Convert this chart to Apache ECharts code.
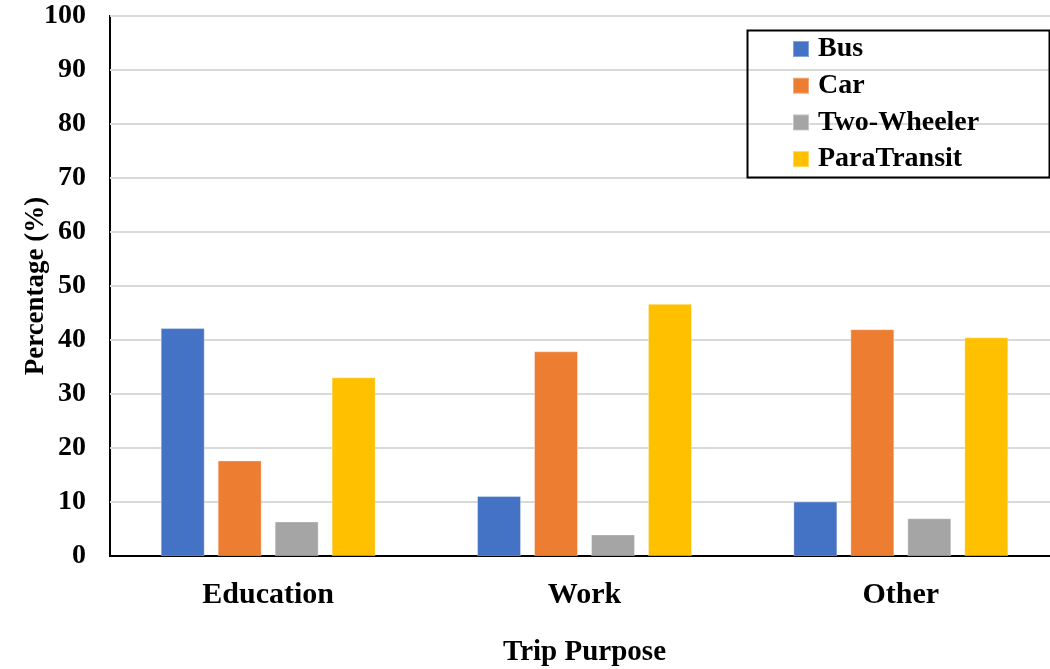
<!DOCTYPE html>
<html>
<head>
<meta charset="utf-8">
<script src="https://cdn.jsdelivr.net/npm/echarts@6/dist/echarts.min.js"></script>
<style>
  html, body { margin: 0; padding: 0; background: #fff; }
  #chart { width: 1050px; height: 669px; }
</style>
</head>
<body>
<div id="chart"></div>
<script>
/* Mode share by trip purpose, grouped bars. */
const categories = ["Education", "Work", "Other"];
const modes = ["Bus", "Car", "Two-Wheeler", "ParaTransit"];
const bus = [42.2, 11.1, 10.1];
const car = [17.7, 37.9, 42.0];
const twoWheeler = [6.4, 4.0, 7.0];
const paraTransit = [33.1, 46.7, 40.5];
const yTicks = [0, 100, 10]; // min, max, step

const colors = ["#4472C4", "#ED7D31", "#A5A5A5", "#FFC000"];
const values = [bus, car, twoWheeler, paraTransit];
const serif = "'Liberation Serif', 'Times New Roman', serif";

const chart = echarts.init(document.getElementById("chart"));
chart.setOption({
  animation: false,
  color: colors,
  grid: {
    left: 110, top: 16, width: 949, height: 540,
    show: true, borderColor: "#000", borderWidth: 2,
    containLabel: false, outerBoundsMode: "none",
  },
  legend: {
    orient: "vertical", left: 792, top: 34, padding: 0,
    itemWidth: 16, itemHeight: 16, itemGap: 6.7,
    icon: "rect",
    textStyle: { fontFamily: serif, fontWeight: "bold", fontSize: 28, color: "#000", lineHeight: 30, padding: [0, 0, 0, 4] },
    data: modes,
  },
  graphic: [
    { type: "rect", left: 745, top: 28, shape: { width: 302, height: 147 }, style: { fill: "none", stroke: "#000", lineWidth: 2 }, z: 100 },
  ],
  xAxis: {
    type: "category", data: categories,
    axisTick: { show: false },
    axisLine: { lineStyle: { color: "#000", width: 2 } },
    axisLabel: { margin: 24, color: "#000", fontFamily: serif, fontWeight: "bold", fontSize: 30 },
    name: "Trip Purpose", nameLocation: "middle", nameGap: 82, nameMoveOverlap: false,
    nameTextStyle: { color: "#000", fontFamily: serif, fontWeight: "bold", fontSize: 29 },
  },
  yAxis: {
    type: "value", min: yTicks[0], max: yTicks[1], interval: yTicks[2],
    axisLine: { show: false }, axisTick: { show: false },
    splitLine: { lineStyle: { color: "#d9d9d9", width: 2 } },
    axisLabel: { margin: 24, color: "#000", fontFamily: serif, fontWeight: "bold", fontSize: 28 },
    name: "Percentage (%)", nameLocation: "middle", nameGap: 60, nameRotate: 90, nameMoveOverlap: false,
    nameTextStyle: { color: "#000", fontFamily: serif, fontWeight: "bold", fontSize: 27 },
  },
  series: modes.map((m, i) => ({
    name: m, type: "bar", data: values[i],
    barWidth: 44, barGap: "29.5%",
    itemStyle: { color: colors[i], borderColor: "rgba(255,255,255,0.35)", borderWidth: 1 },
  })),
});
</script>
</body>
</html>
